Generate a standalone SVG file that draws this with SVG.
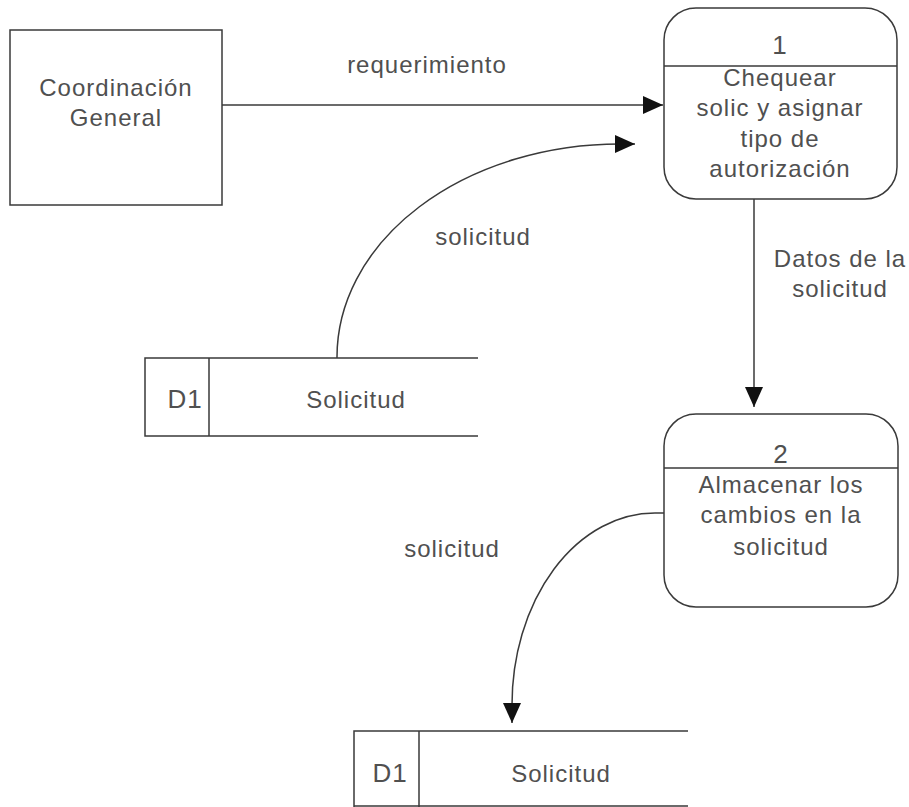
<svg xmlns="http://www.w3.org/2000/svg" width="909" height="807" viewBox="0 0 909 807">
<defs>
<style>
.shape{fill:#fff;stroke:#3a3a3a;stroke-width:1.5}
.line{fill:none;stroke:#3a3a3a;stroke-width:1.5}
.t{font-family:"Liberation Sans",Arial,sans-serif;font-size:24px;fill:#505050;text-anchor:middle;letter-spacing:1px}
</style>
<marker id="arr" viewBox="0 0 20 18" refX="20" refY="9" markerWidth="20" markerHeight="18" markerUnits="userSpaceOnUse" orient="auto">
<path d="M0,0 L20,9 L0,18 Z" fill="#111"/>
</marker>
</defs>
<rect width="909" height="807" fill="#fff"/>
<g id="connectors">
<path class="line" d="M222,105 L663,105" marker-end="url(#arr)"/>
<path class="line" d="M337,358 A283,213 0 0 1 620,144 L635,144" marker-end="url(#arr)"/>
<path class="line" d="M754,199 L754,407" marker-end="url(#arr)"/>
<path class="line" d="M664,513 L655,513 A143,192 0 0 0 512,705 L512,723" marker-end="url(#arr)"/>
<text class="t" x="427" y="73">requerimiento</text>
<text class="t" x="483" y="245">solicitud</text>
<text class="t" x="840" y="267">Datos de la</text>
<text class="t" x="840" y="297">solicitud</text>
<text class="t" x="452" y="557">solicitud</text>
</g>
<g id="coordinacion">
<rect class="shape" x="10" y="30" width="212" height="175"/>
<text class="t" x="116" y="96">Coordinación</text>
<text class="t" x="116" y="126">General</text>
</g>
<g id="proceso1">
<rect class="shape" x="664" y="8" width="233" height="191" rx="32" ry="32"/>
<line class="line" x1="664" y1="66" x2="897" y2="66"/>
<text class="t" x="780" y="54" style="font-size:26px">1</text>
<text class="t" x="780" y="86">Chequear</text>
<text class="t" x="780" y="116">solic y asignar</text>
<text class="t" x="780" y="147">tipo de</text>
<text class="t" x="780" y="177">autorización</text>
</g>
<g id="proceso2">
<rect class="shape" x="664" y="414" width="234" height="193" rx="32" ry="32"/>
<line class="line" x1="664" y1="468" x2="898" y2="468"/>
<text class="t" x="781" y="463" style="font-size:26px">2</text>
<text class="t" x="781" y="493">Almacenar los</text>
<text class="t" x="781" y="523">cambios en la</text>
<text class="t" x="781" y="555">solicitud</text>
</g>
<g id="almacen1">
<path class="line" d="M478,358 L145,358 L145,436 L478,436 M209,358 L209,436"/>
<text class="t" x="185" y="408" style="font-size:26px">D1</text>
<text class="t" x="356" y="408">Solicitud</text>
</g>
<g id="almacen2">
<path class="line" d="M688,731 L354,731 L354,807 M419,731 L419,807 M354,806 L688,806"/>
<text class="t" x="390" y="782" style="font-size:26px">D1</text>
<text class="t" x="561" y="782">Solicitud</text>
</g>
</svg>
